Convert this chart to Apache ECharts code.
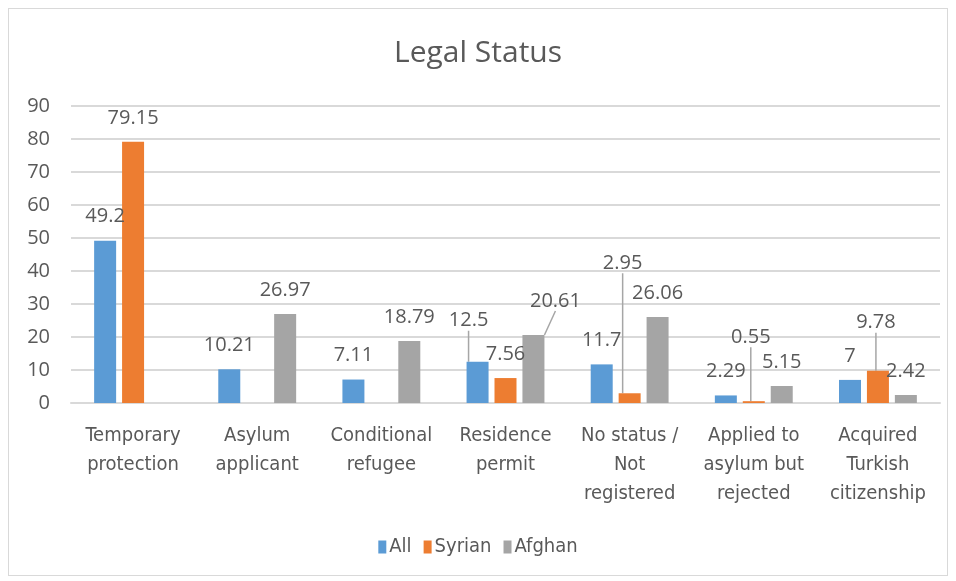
<!DOCTYPE html>
<html>
<head>
<meta charset="utf-8">
<script src="https://cdn.jsdelivr.net/npm/echarts@6/dist/echarts.min.js"></script>
<style>
  html, body { margin: 0; padding: 0; background: #fff; }
  #box { width: 956px; height: 581px; }
  .frame { position: absolute; left: 8px; top: 8px; width: 938px; height: 566px; border: 1px solid #d9d9d9; pointer-events: none; }
</style>
</head>
<body>
<div id="box"></div>
<div class="frame"></div>
<script>
// categories (line breaks as in the original)
const categories = [
  "Temporary\nprotection",
  "Asylum\napplicant",
  "Conditional\nrefugee",
  "Residence\npermit",
  "No status /\nNot\nregistered",
  "Applied to\nasylum but\nrejected",
  "Acquired\nTurkish\ncitizenship"
];
const allValues = [49.2, 10.21, 7.11, 12.5, 11.7, 2.29, 7];
const syrianValues = [79.15, null, null, 7.56, 2.95, 0.55, 9.78];
const afghanValues = [null, 26.97, 18.79, 20.61, 26.06, 5.15, 2.42];
const yTicks = [0, 10, 20, 30, 40, 50, 60, 70, 80, 90];

// labels that were dragged away from their bars: seriesIndex-dataIndex -> shift
const labelMoves = {
  "0-3": [-9, -17],
  "2-3": [22, -10],
  "1-4": [-7, -106],
  "1-5": [-3, -40],
  "1-6": [-2, -24]
};

const txt = "#595959";
const numFont = "'Open Sans', sans-serif";
const narrowFont = "'Liberation Sans Narrow', 'DejaVu Sans Condensed', sans-serif";
const colors = ["#5B9BD5", "#ED7D31", "#A5A5A5"];

const chart = echarts.init(document.getElementById("box"));

function barSeries(name, values, idx) {
  // leader lines only on the moved labels
  const data = values.map((v, i) =>
    labelMoves[idx + "-" + i] ? { value: v, labelLine: { show: true } } : v
  );
  return {
    name: name,
    type: "bar",
    data: data,
    barWidth: 22,
    barGap: "27%",
    label: {
      show: true,
      position: "top",
      distance: 14,
      color: txt,
      fontSize: 20,
      fontFamily: numFont
    },
    labelLine: {
      show: false,
      lineStyle: { color: "#a6a6a6", width: 1.5 }
    }
  };
}

const option = {
  backgroundColor: "#fff",
  color: colors,
  animation: false,
  title: {
    text: "Legal Status",
    left: "center",
    top: 33,
    textStyle: { color: txt, fontSize: 30, fontWeight: "normal", fontFamily: numFont }
  },
  legend: {
    data: ["All", "Syrian", "Afghan"],
    bottom: 19,
    left: "center",
    itemWidth: 8,
    itemHeight: 13,
    itemGap: 12,
    icon: "rect",
    textStyle: { color: txt, fontSize: 20, fontFamily: narrowFont, padding: [0, 0, 0, -2] }
  },
  grid: { left: 71, right: 16, top: 106, bottom: 178 },
  xAxis: {
    type: "category",
    data: categories,
    axisTick: { show: false },
    axisLine: { lineStyle: { color: "#d9d9d9", width: 2 } },
    axisLabel: {
      color: txt,
      fontSize: 20,
      fontFamily: narrowFont,
      lineHeight: 29,
      margin: 18,
      interval: 0
    }
  },
  yAxis: {
    type: "value",
    min: yTicks[0],
    max: yTicks[yTicks.length - 1],
    interval: 10,
    axisLine: { show: false },
    axisTick: { show: false },
    splitLine: { lineStyle: { color: "#d9d9d9", width: 2 } },
    axisLabel: { color: txt, fontSize: 20, fontFamily: numFont, margin: 21 }
  },
  labelLayout: function (params) {
    const m = labelMoves[params.seriesIndex + "-" + params.dataIndex];
    if (!m) return {};
    return { dx: m[0], dy: m[1] };
  },
  series: [
    barSeries("All", allValues, 0),
    barSeries("Syrian", syrianValues, 1),
    barSeries("Afghan", afghanValues, 2)
  ]
};

chart.setOption(option);
</script>
</body>
</html>
